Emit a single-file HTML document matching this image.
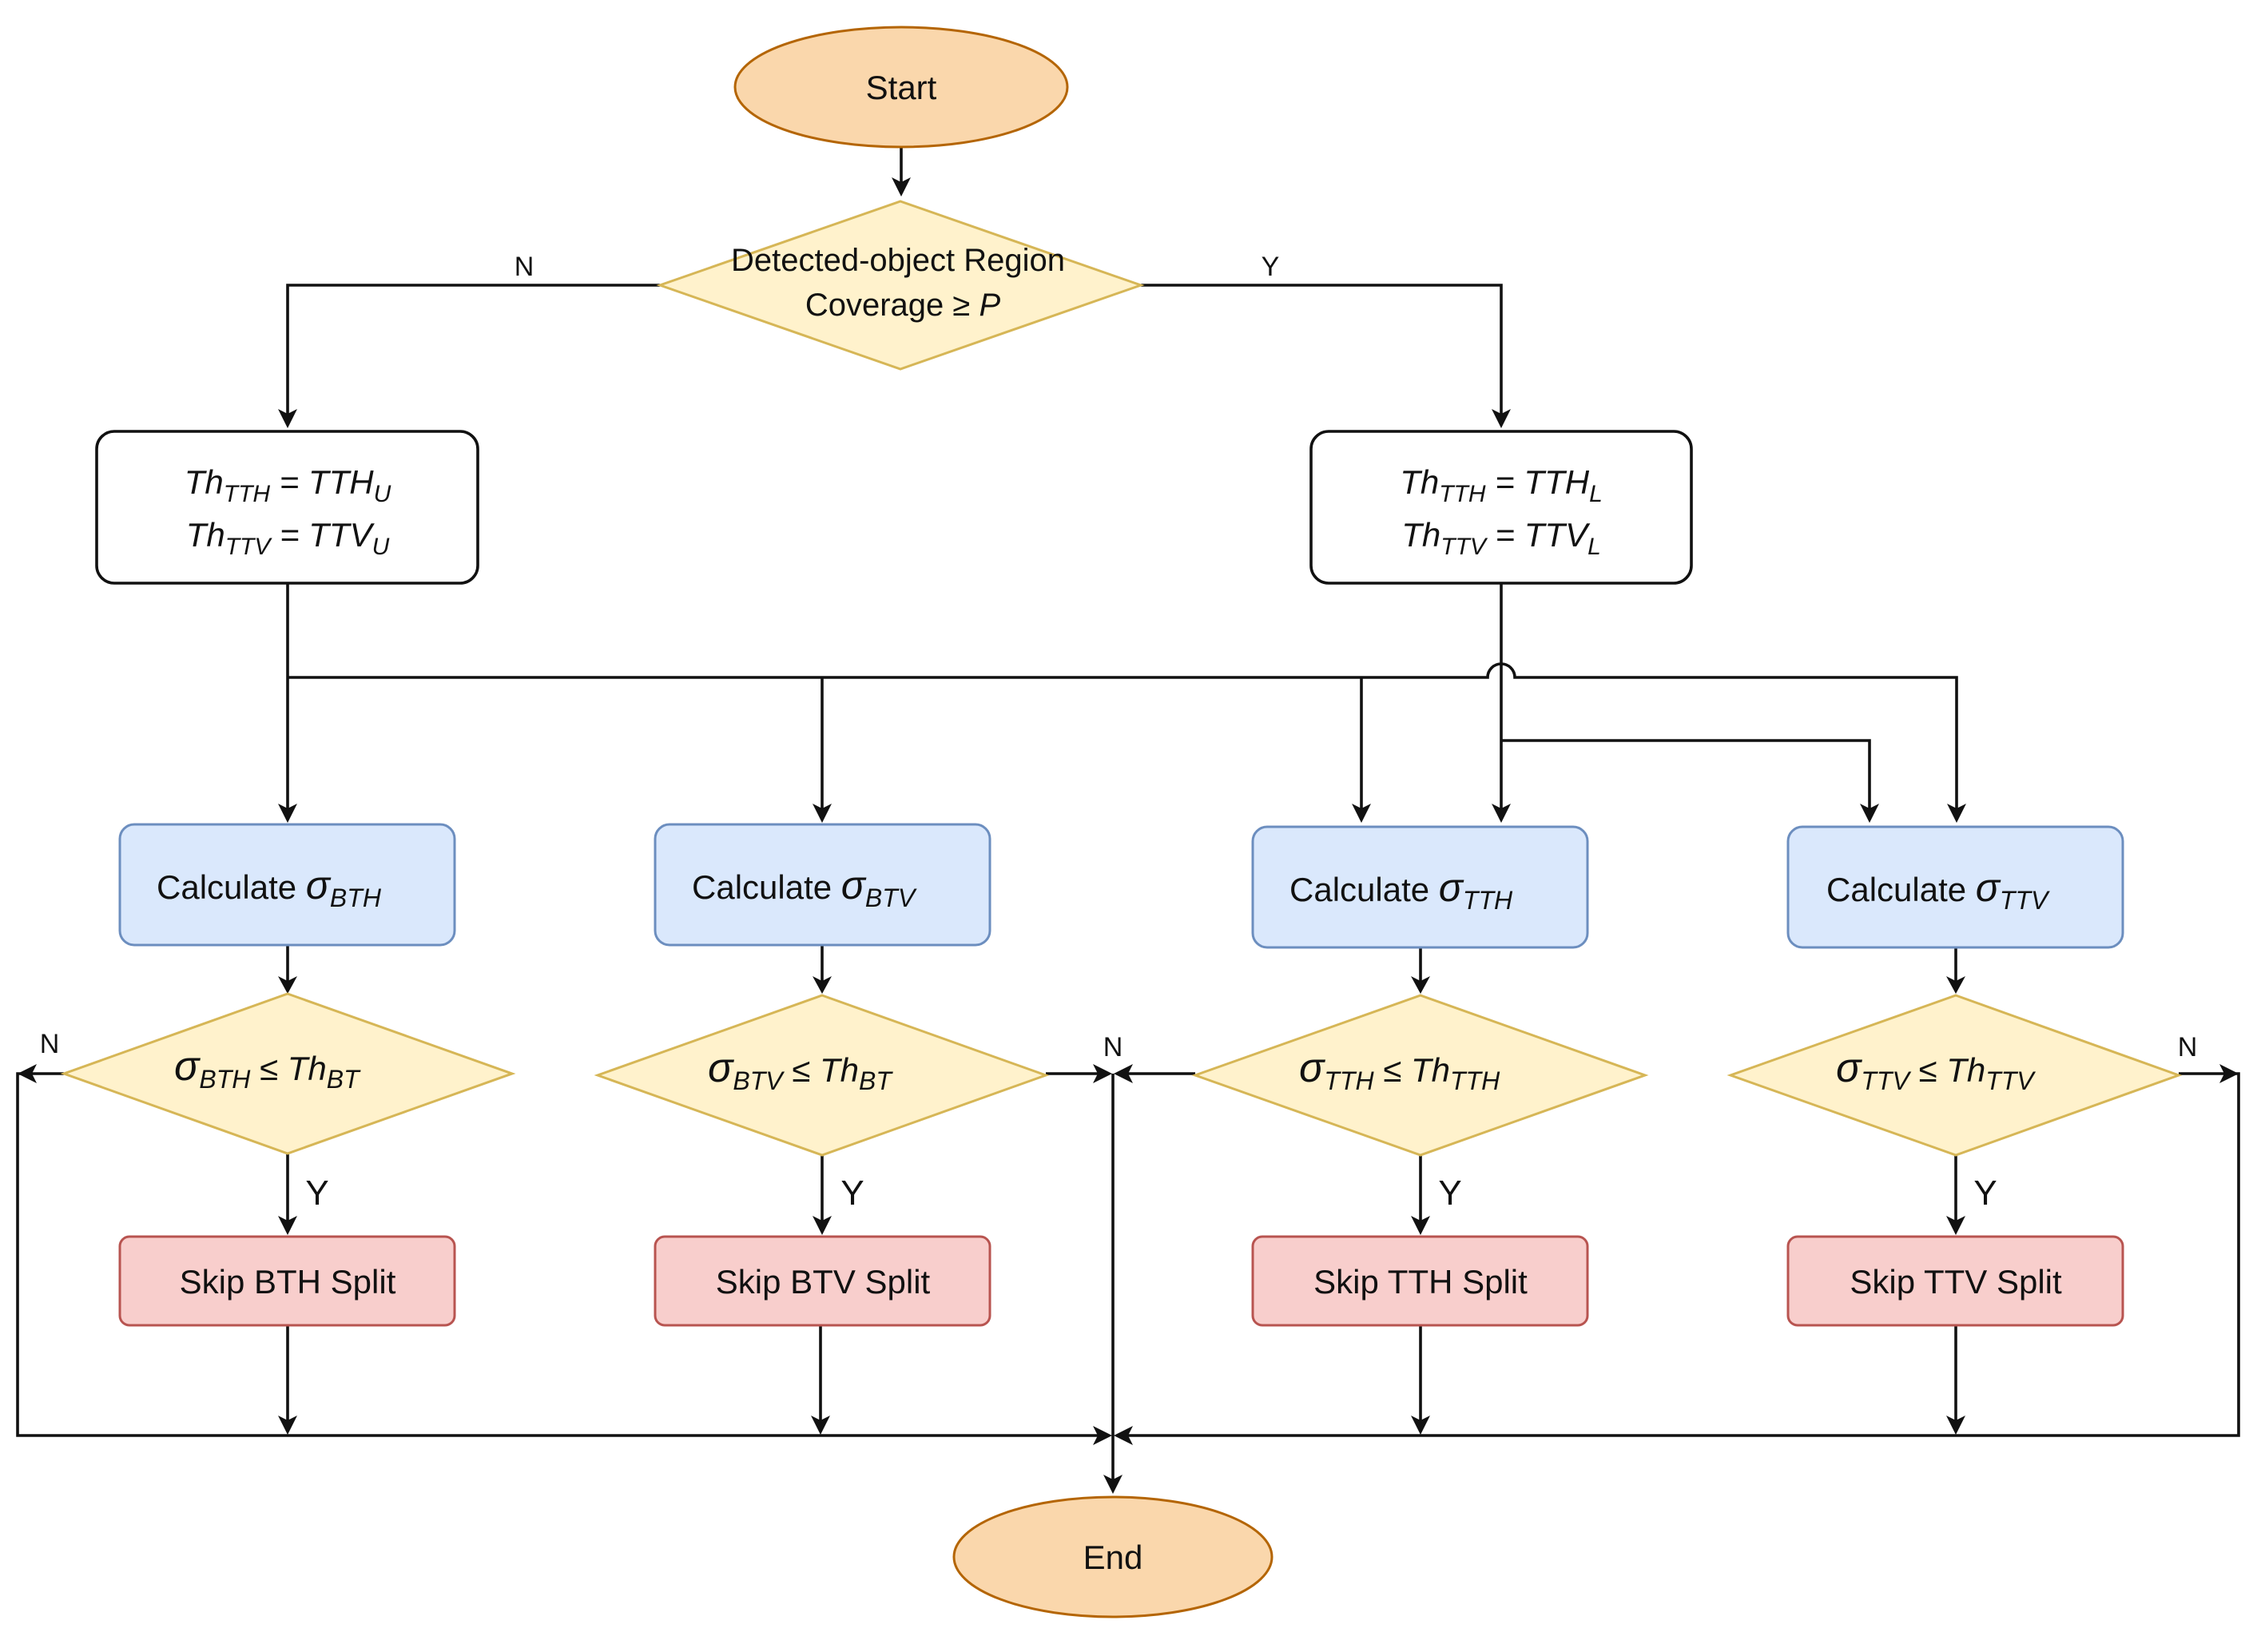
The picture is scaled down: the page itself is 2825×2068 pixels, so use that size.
<!DOCTYPE html>
<html><head><meta charset="utf-8"><style>
html,body{margin:0;padding:0;background:#fff;}
svg{display:block;}
text{font-family:"Liberation Sans",Arial,sans-serif;fill:#111;}
.it{font-style:italic;}
</style></head><body>
<svg width="2825" height="2068" viewBox="0 0 2825 2068" xmlns="http://www.w3.org/2000/svg">
<defs>
<marker id="a" markerWidth="10" markerHeight="10" refX="9" refY="5" orient="auto" markerUnits="userSpaceOnUse" viewBox="0 0 10 10">
</marker>
</defs>
<g stroke="#111" stroke-width="3.6" fill="none">
<!-- start -> decision -->
<path d="M1128 185 V238"/>
<!-- N branch -->
<path d="M826 357 H360 V520"/>
<!-- Y branch -->
<path d="M1428 357 H1879 V520"/>
<!-- left box down -->
<path d="M360 730 V1012"/>
<path d="M360 848 H1862 A17 17 0 0 1 1896 848 H2449 V1012"/>
<path d="M1029 848 V1012"/>
<path d="M1704 848 V1012"/>
<!-- right box down -->
<path d="M1879 730 V1012"/>
<path d="M1879 927 H2340 V1012"/>
<!-- blue to diamond -->
<path d="M360 1183 V1230"/>
<path d="M1029 1183 V1230"/>
<path d="M1778 1186 V1230"/>
<path d="M2448 1186 V1230"/>
<!-- diamond to pink -->
<path d="M360 1444 V1528"/>
<path d="M1029 1446 V1528"/>
<path d="M1778 1446 V1528"/>
<path d="M2448 1446 V1528"/>
<!-- pink to bottom -->
<path d="M360 1659 V1778"/>
<path d="M1027 1659 V1778"/>
<path d="M1778 1659 V1778"/>
<path d="M2448 1659 V1778"/>
<!-- loops -->
<path d="M80 1344 H22 V1797 H1376"/>
<path d="M2727 1344 H2802 V1797 H1410"/>
<path d="M1309 1344 H1376"/>
<path d="M1496 1344 H1412"/>
<path d="M1393 1344 V1852"/>
</g>
<g fill="#111">
<!-- arrowheads down -->
<path d="M1116 222 L1128 246 L1140 222 L1128 228Z"/>
<path d="M348 512 L360 536 L372 512 L360 518Z"/>
<path d="M1867 512 L1879 536 L1891 512 L1879 518Z"/>
<path d="M348 1006 L360 1030 L372 1006 L360 1012Z"/>
<path d="M1017 1006 L1029 1030 L1041 1006 L1029 1012Z"/>
<path d="M1692 1006 L1704 1030 L1716 1006 L1704 1012Z"/>
<path d="M1867 1006 L1879 1030 L1891 1006 L1879 1012Z"/>
<path d="M2328 1006 L2340 1030 L2352 1006 L2340 1012Z"/>
<path d="M2437 1006 L2449 1030 L2461 1006 L2449 1012Z"/>
<path d="M348 1222 L360 1244 L372 1222 L360 1228Z"/>
<path d="M1017 1222 L1029 1244 L1041 1222 L1029 1228Z"/>
<path d="M1766 1222 L1778 1244 L1790 1222 L1778 1228Z"/>
<path d="M2436 1222 L2448 1244 L2460 1222 L2448 1228Z"/>
<path d="M348 1522 L360 1546 L372 1522 L360 1528Z"/>
<path d="M1017 1522 L1029 1546 L1041 1522 L1029 1528Z"/>
<path d="M1766 1522 L1778 1546 L1790 1522 L1778 1528Z"/>
<path d="M2436 1522 L2448 1546 L2460 1522 L2448 1528Z"/>
<path d="M348 1772 L360 1796 L372 1772 L360 1778Z"/>
<path d="M1015 1772 L1027 1796 L1039 1772 L1027 1778Z"/>
<path d="M1766 1772 L1778 1796 L1790 1772 L1778 1778Z"/>
<path d="M2436 1772 L2448 1796 L2460 1772 L2448 1778Z"/>
<path d="M1381 1846 L1393 1870 L1405 1846 L1393 1852Z"/>
<!-- horizontal arrows -->
<path d="M46 1332 L22 1344 L46 1356 L40 1344Z"/>
<path d="M1368 1332 L1392 1344 L1368 1356 L1374 1344Z"/>
<path d="M1418 1332 L1394 1344 L1418 1356 L1412 1344Z"/>
<path d="M2778 1332 L2802 1344 L2778 1356 L2784 1344Z"/>
<path d="M1368 1785 L1392 1797 L1368 1809 L1374 1797Z"/>
<path d="M1418 1785 L1394 1797 L1418 1809 L1412 1797Z"/>
</g>
<!-- start / end -->
<ellipse cx="1128" cy="109" rx="208" ry="75" fill="#fad7ac" stroke="#b46504" stroke-width="3"/>
<text x="1128" y="124" font-size="42" text-anchor="middle">Start</text>
<ellipse cx="1393" cy="1949" rx="199" ry="75" fill="#fad7ac" stroke="#b46504" stroke-width="3"/>
<text x="1393" y="1964" font-size="42" text-anchor="middle">End</text>
<!-- main decision -->
<polygon points="1127,252 1428,357 1127,462 826,357" fill="#fff2cc" stroke="#d6b656" stroke-width="3"/>
<text x="1124" y="339" font-size="40" text-anchor="middle">Detected-object Region</text>
<text x="1130" y="395" font-size="40" text-anchor="middle">Coverage ≥ <tspan class="it">P</tspan></text>
<text x="656" y="345" font-size="34" text-anchor="middle">N</text>
<text x="1590" y="345" font-size="34" text-anchor="middle">Y</text>
<!-- threshold boxes -->
<rect x="121" y="540" width="477" height="190" rx="22" fill="#fff" stroke="#111" stroke-width="3.6"/>
<text x="360" y="618" font-size="42" text-anchor="middle" class="it">Th<tspan font-size="30" dy="10">TTH</tspan><tspan dy="-10"> = TTH</tspan><tspan font-size="30" dy="10">U</tspan></text>
<text x="360" y="684" font-size="42" text-anchor="middle" class="it">Th<tspan font-size="30" dy="10">TTV</tspan><tspan dy="-10"> = TTV</tspan><tspan font-size="30" dy="10">U</tspan></text>
<rect x="1641" y="540" width="476" height="190" rx="22" fill="#fff" stroke="#111" stroke-width="3.6"/>
<text x="1879" y="618" font-size="42" text-anchor="middle" class="it">Th<tspan font-size="30" dy="10">TTH</tspan><tspan dy="-10"> = TTH</tspan><tspan font-size="30" dy="10">L</tspan></text>
<text x="1879" y="684" font-size="42" text-anchor="middle" class="it">Th<tspan font-size="30" dy="10">TTV</tspan><tspan dy="-10"> = TTV</tspan><tspan font-size="30" dy="10">L</tspan></text>
<!-- blue boxes -->
<g fill="#dae8fc" stroke="#6c8ebf" stroke-width="3">
<rect x="150" y="1032" width="419" height="151" rx="18"/>
<rect x="820" y="1032" width="419" height="151" rx="18"/>
<rect x="1568" y="1035" width="419" height="151" rx="18"/>
<rect x="2238" y="1035" width="419" height="151" rx="18"/>
</g>
<g font-size="42">
<text x="196" y="1125">Calculate  <tspan class="it" font-size="50">σ</tspan><tspan class="it" font-size="32" dy="10">BTH</tspan></text>
<text x="866" y="1125">Calculate  <tspan class="it" font-size="50">σ</tspan><tspan class="it" font-size="32" dy="10">BTV</tspan></text>
<text x="1614" y="1128">Calculate  <tspan class="it" font-size="50">σ</tspan><tspan class="it" font-size="32" dy="10">TTH</tspan></text>
<text x="2286" y="1128">Calculate  <tspan class="it" font-size="50">σ</tspan><tspan class="it" font-size="32" dy="10">TTV</tspan></text>
</g>
<!-- decisions -->
<g fill="#fff2cc" stroke="#d6b656" stroke-width="3">
<polygon points="360,1244 641,1344 360,1444 80,1344"/>
<polygon points="1029,1246 1309,1346 1029,1446 748,1346"/>
<polygon points="1778,1246 2059,1346 1778,1446 1496,1346"/>
<polygon points="2448,1246 2727,1346 2448,1446 2166,1346"/>
</g>
<g font-size="42" class="it">
<text x="218" y="1352"><tspan font-size="52">σ</tspan><tspan font-size="32" dy="10">BTH</tspan><tspan dy="-10" font-style="normal">  ≤  </tspan>Th<tspan font-size="32" dy="10">BT</tspan></text>
<text x="886" y="1354"><tspan font-size="52">σ</tspan><tspan font-size="32" dy="10">BTV</tspan><tspan dy="-10" font-style="normal">  ≤  </tspan>Th<tspan font-size="32" dy="10">BT</tspan></text>
<text x="1626" y="1354"><tspan font-size="52">σ</tspan><tspan font-size="32" dy="10">TTH</tspan><tspan dy="-10" font-style="normal">  ≤  </tspan>Th<tspan font-size="32" dy="10">TTH</tspan></text>
<text x="2298" y="1354"><tspan font-size="52">σ</tspan><tspan font-size="32" dy="10">TTV</tspan><tspan dy="-10" font-style="normal">  ≤  </tspan>Th<tspan font-size="32" dy="10">TTV</tspan></text>
</g>
<g font-size="34" text-anchor="middle">
<text x="62" y="1318">N</text>
<text x="1393" y="1322">N</text>
<text x="2738" y="1322">N</text>
</g>
<g font-size="44" text-anchor="middle">
<text x="397" y="1508">Y</text>
<text x="1067" y="1508">Y</text>
<text x="1815" y="1508">Y</text>
<text x="2485" y="1508">Y</text>
</g>
<!-- pink boxes -->
<g fill="#f8cecc" stroke="#b85450" stroke-width="3">
<rect x="150" y="1548" width="419" height="111" rx="12"/>
<rect x="820" y="1548" width="419" height="111" rx="12"/>
<rect x="1568" y="1548" width="419" height="111" rx="12"/>
<rect x="2238" y="1548" width="419" height="111" rx="12"/>
</g>
<g font-size="42" text-anchor="middle">
<text x="360" y="1619">Skip BTH Split</text>
<text x="1030" y="1619">Skip BTV Split</text>
<text x="1778" y="1619">Skip TTH Split</text>
<text x="2448" y="1619">Skip TTV Split</text>
</g>
</svg>
</body></html>
